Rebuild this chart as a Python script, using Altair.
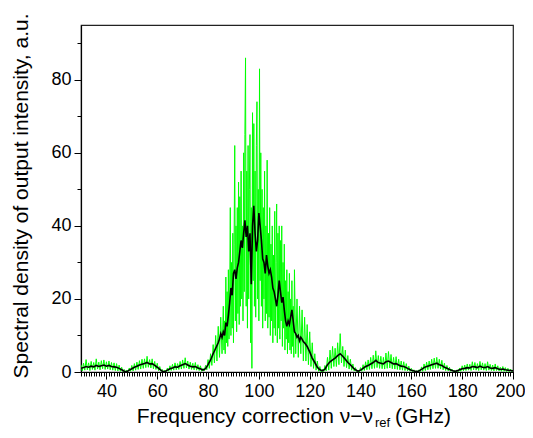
import altair as alt
import pandas as pd

# ---------------- data ----------------
X_DOMAIN = [30, 200]
Y_DOMAIN = [0, 95]

# raw spectrum (green), three segments with their own sampling step
green_a_start, green_a_step = 30.0, 0.5
green_a = [
    2.0, 0.3, 2.4, 0.5, 3.4, 0.6, 2.5, 0.4, 2.9, 0.7, 2.6, 0.5, 3.6, 0.8, 2.7, 0.6,
    3.1, 0.9, 3.3, 0.7, 2.8, 0.8, 3.0, 0.6, 2.6, 0.5, 2.5, 0.4, 2.3, 0.3, 1.9, 0.2,
    1.3, 0.1, 0.7, 0.0, 0.5, 0.1, 1.1, 0.2, 1.8, 0.3, 2.3, 0.5, 2.7, 0.7, 3.1, 0.8,
    3.5, 1.0, 3.6, 1.2, 4.3, 1.3, 3.4, 1.1, 3.6, 0.9, 2.9, 0.7, 2.4, 0.4, 1.5, 0.2,
    0.7, 0.0, 0.5, 0.1, 1.1, 0.2, 1.7, 0.4, 2.1, 0.5, 2.5, 0.6, 2.3, 0.7, 2.9, 0.8,
    3.3, 1.0, 3.9, 1.1, 3.0, 0.8, 2.7, 0.7, 2.4, 0.6, 2.6, 0.5, 2.0, 0.4, 1.7, 0.2,
    1.0, 0.3, 1.8, 0.6, 3.4, 1.0, 5.0, 1.8, 7.5, 2.5, 10.0, 3.0, 12.5, 4.0, 15.0, 5.0,
]
green_b_start, green_b_step = 86.0, 0.25
green_b = [
    18, 6, 14, 5,  26, 8, 22, 7,  28, 9, 20, 45,  10, 30, 12, 38,
    8, 35, 62, 14,  40, 11, 45, 16,  52, 13, 48, 18,  55, 20, 40, 14,
    60, 22, 65, 86,  18, 55, 12, 62,  20, 50, 65, 8,  45, 1, 71, 25,
    68, 18, 55, 15,  62, 74, 20, 50,  14, 83, 25, 60,  18, 50, 12, 45,
    20, 55, 14, 40,  16, 58, 12, 38,  15, 45, 10, 35,  14, 40, 8, 32,
    12, 44, 10, 30,  46, 8, 38, 12,  40, 9, 36, 14,  40, 7, 30, 12,
    35, 6, 25, 9,  28, 5, 22, 8,  27, 6, 20, 5,  25, 7, 18, 4,
]
green_c_start, green_c_step = 114.0, 0.5
green_c = [
    28, 5, 20, 4, 18, 5, 17, 3, 15, 3, 13, 2, 11, 1.5, 8, 1, 5, 0.5, 3, 0.2,
    1.5, 0.0, 0.8, 0.1, 1.8, 0.3, 4, 0.5, 6, 1, 7, 1.5, 6.5, 1.5, 8, 2, 10.5, 2.5,
    7, 1.5, 6, 1.2, 4.5, 0.8, 3.5, 0.5, 2.2, 0.3, 1.2, 0.1, 0.5, 0.0,
    1.2, 0.2, 2.0, 0.4, 2.8, 0.6, 3.3, 0.7, 4.0, 0.9, 4.6, 1.0, 5.8, 1.2, 4.5, 1.0,
    4.3, 0.9, 4.0, 0.8, 5.2, 1.0, 5.6, 1.1, 4.8, 0.9, 4.0, 0.8, 4.2, 0.7, 3.5, 0.6,
    3.0, 0.5, 2.8, 0.4, 2.3, 0.3, 1.6, 0.2, 1.0, 0.1, 0.6, 0.0, 0.3, 0.0,
    0.6, 0.1, 1.4, 0.2, 2.2, 0.4, 2.7, 0.6, 3.0, 0.7, 3.5, 0.9, 3.8, 1.0, 4.0, 1.0,
    3.5, 0.8, 3.2, 0.6, 2.4, 0.4, 1.8, 0.3, 1.3, 0.2, 0.8, 0.1, 0.4, 0.0,
    0.6, 0.1, 1.1, 0.2, 1.7, 0.3, 1.9, 0.4, 2.2, 0.5, 2.1, 0.4, 2.8, 0.6, 2.6, 0.5,
    2.3, 0.4, 2.9, 0.6, 2.5, 0.5, 2.3, 0.4, 2.8, 0.5, 2.1, 0.4, 1.9, 0.3, 2.2, 0.4,
    1.7, 0.3, 1.3, 0.2, 1.5, 0.2, 1.2, 0.1, 1.0, 0.1, 0.8, 0.1, 0.6,
]

# smoothed spectrum (black): 1 GHz step outside the peak, 0.5 GHz inside
black_a_start, black_a_step = 30.0, 1.0
black_a = [
    1.0, 1.2, 1.5, 1.3, 1.6, 1.4, 1.8, 1.5, 1.7, 1.9,
    1.6, 1.8, 1.5, 1.4, 1.3, 1.0, 0.6, 0.2, 0.1, 0.5,
    0.9, 1.3, 1.6, 1.9, 2.1, 2.3, 2.6, 2.2, 2.3, 1.8,
    1.3, 0.7, 0.2, 0.1, 0.5, 0.9, 1.1, 1.4, 1.3, 1.7,
    2.0, 2.3, 1.9, 1.6, 1.4, 1.5, 1.1, 0.9, 0.5, 0.9,
    2.0, 3.3, 5.0, 6.5, 8.0,
]
black_b_start, black_b_step = 84.5, 0.5
black_b = [
    9.0, 10.5, 9.5, 11.0, 10.0, 13.5, 12.5, 15.5, 19.0, 23.0,
    21.0, 27.0, 28.0, 25.5, 28.5, 30.0, 33.0, 36.0, 34.0, 38.0,
    41.5, 37.0, 40.0, 33.0, 38.0, 24.0, 40.0, 45.5, 38.0, 33.0,
    36.0, 43.5, 40.0, 36.0, 31.0, 30.0, 27.0, 32.0, 29.0, 27.0,
    28.0, 26.0, 23.0, 22.0, 20.0, 18.0, 21.0, 25.0, 22.0, 19.0,
    20.5, 17.0, 14.0, 12.5, 14.0, 13.0, 15.0, 17.0, 14.0, 11.0,
    10.5, 9.5, 10.0, 8.5, 9.5, 9.0, 8.3,
]
black_c_start, black_c_step = 118.0, 1.0
black_c = [
    8.0, 7.0,
    5.5, 3.8, 2.6, 1.3, 0.6, 0.3, 0.8, 2.0, 2.8, 3.3,
    3.8, 4.5, 5.0, 4.3, 3.5, 2.6, 2.0, 1.2, 0.6, 0.2,
    0.5, 1.0, 1.5, 1.8, 2.2, 2.6, 3.2, 2.6, 2.4, 2.2,
    2.8, 3.0, 2.6, 2.2, 2.3, 1.9, 1.6, 1.5, 1.2, 0.8,
    0.5, 0.3, 0.1, 0.3, 0.7, 1.2, 1.5, 1.7, 2.0, 2.2,
    2.4, 2.0, 1.8, 1.3, 1.0, 0.7, 0.4, 0.2, 0.3, 0.6,
    0.9, 1.0, 1.2, 1.1, 1.5, 1.4, 1.2, 1.6, 1.3, 1.2,
    1.5, 1.1, 1.0, 1.2, 0.9, 0.7, 0.8, 0.6, 0.5, 0.4,
    0.3,
]

x_major_ticks = [40, 60, 80, 100, 120, 140, 160, 180, 200]
x_minor_ticks = list(range(30, 201))
y_major_ticks = [0, 20, 40, 60, 80]
y_minor_ticks = [0, 10, 20, 30, 40, 50, 60, 70, 80, 90]

x_title_parts = ["Frequency correction \u03bd\u2212\u03bd", "ref", "(GHz)"]
y_title = "Spectral density of output intensity, a.u."

# ---------------- tables ----------------
def seg(start, step, vals):
    return [(start + i * step, v) for i, v in enumerate(vals)]

green_df = pd.DataFrame(
    seg(green_a_start, green_a_step, green_a)
    + seg(green_b_start, green_b_step, green_b)
    + seg(green_c_start, green_c_step, green_c),
    columns=["f", "s"],
)
black_df = pd.DataFrame(
    seg(black_a_start, black_a_step, black_a)
    + seg(black_b_start, black_b_step, black_b)
    + seg(black_c_start, black_c_step, black_c),
    columns=["f", "s"],
)

FONT = "Liberation Sans"
W, H = 432, 347

x_major_axis = alt.Axis(values=x_major_ticks, title=None, orient="bottom", tickSize=7,
                        labelPadding=3, labelFlush=True, labelFlushOffset=12,
                        labelOverlap=False)
y_major_axis = alt.Axis(values=y_major_ticks, title=None, orient="left", tickSize=7,
                        labelPadding=3, labelFlush=False, labelOverlap=False)
x_minor_axis = alt.Axis(values=x_minor_ticks, title=None, orient="bottom", tickSize=4,
                        labels=False, domain=False)
y_minor_axis = alt.Axis(values=y_minor_ticks, title=None, orient="left", tickSize=4,
                        labels=False, domain=False)

xs = alt.Scale(domain=X_DOMAIN, nice=False, zero=False)
ys = alt.Scale(domain=Y_DOMAIN, nice=False)

green = alt.Chart(green_df).mark_line(color="#00ff00", strokeWidth=1, clip=True).encode(
    x=alt.X("f:Q", scale=xs, axis=x_major_axis),
    y=alt.Y("s:Q", scale=ys, axis=y_major_axis),
    order="f:Q",
)
blk = alt.Chart(black_df).mark_line(color="black", strokeWidth=1.6, clip=True).encode(
    x=alt.X("f:Q", scale=xs, axis=x_minor_axis),
    y=alt.Y("s:Q", scale=ys, axis=y_minor_axis),
    order="f:Q",
)

t_main = alt.Chart(pd.DataFrame({"t": [x_title_parts[0]]})).mark_text(
    font=FONT, fontSize=21, align="right", baseline="alphabetic", color="black"
).encode(x=alt.value(292), y=alt.value(398), text="t:N")
t_sub = alt.Chart(pd.DataFrame({"t": [x_title_parts[1]]})).mark_text(
    font=FONT, fontSize=13, align="left", baseline="alphabetic", color="black"
).encode(x=alt.value(294), y=alt.value(402), text="t:N")
t_end = alt.Chart(pd.DataFrame({"t": [x_title_parts[2]]})).mark_text(
    font=FONT, fontSize=21, align="left", baseline="alphabetic", color="black"
).encode(x=alt.value(314), y=alt.value(398), text="t:N")
t_y = alt.Chart(pd.DataFrame({"t": [y_title]})).mark_text(
    font=FONT, fontSize=21, align="center", baseline="alphabetic", angle=270, color="black"
).encode(x=alt.value(-53), y=alt.value(171), text="t:N")

chart = alt.layer(green, blk, t_main, t_sub, t_end, t_y).resolve_axis(
    x="independent", y="independent"
).properties(
    width=W, height=H,
    autosize=alt.AutoSizeParams(type="none"),
    padding={"left": 73, "top": 17, "right": 12, "bottom": 58},
).configure_view(
    stroke="#222222", strokeWidth=1.2
).configure_axis(
    labelFont=FONT, labelFontSize=18, labelColor="black",
    tickColor="black", domainColor="black", tickWidth=1, domainWidth=1.2, grid=False,
)

chart.save("out.html", embed_options={"renderer": "svg", "actions": False})
